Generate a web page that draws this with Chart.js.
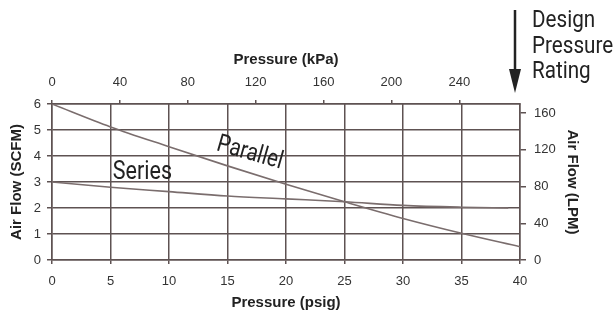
<!DOCTYPE html>
<html>
<head>
<meta charset="utf-8">
<script src="https://cdn.jsdelivr.net/npm/chart.js@4"></script>
<style>
  html, body { margin: 0; background: #fff; }
  #wrap { width: 616px; height: 316px; }
</style>
</head>
<body>
<div id="wrap"><canvas id="myChart" width="616" height="316"></canvas></div>
<script>
// data
var psig = [0, 5, 10, 15, 20, 25, 30, 35, 40];
var parallelScfm = [6.0, 5.12, 4.36, 3.62, 2.91, 2.24, 1.6, 1.03, 0.51];
var seriesPsig = [0, 5, 10, 15, 20, 25, 30, 35, 39];
var seriesScfm = [3.0, 2.8, 2.63, 2.46, 2.35, 2.24, 2.1, 2.03, 2.0];
var kpaTicks = [0, 40, 80, 120, 160, 200, 240];
var lpmTicks = [0, 40, 80, 120, 160];

var KPA_PER_PSI = 6.894757;
var LPM_PER_SCFM = 28.3168;

var gridColor = '#5e5252';
var lineColor = '#7a6d6d';
var tickFont = { family: 'Liberation Sans, Arial, sans-serif', size: 13 };
var titleFont = { family: 'Liberation Sans, Arial, sans-serif', size: 15, weight: 'bold' };

function pts(xs, ys) {
    return xs.map(function (v, i) { return { x: v, y: ys[i] }; });
}

// text labels drawn on top of the chart
var notes = {
    id: 'notes',
    afterDraw: function (chart) {
        var c = chart.ctx, x = chart.scales.x, y = chart.scales.y;
        c.save();
        c.fillStyle = '#222';
        c.textBaseline = 'alphabetic';

        c.font = '25px Roboto';
        c.save();
        c.translate(x.getPixelForValue(5.2), y.getPixelForValue(3.1));
        c.scale(0.86, 1);
        c.fillText('Series', 0, 0);
        c.restore();

        c.save();
        c.translate(x.getPixelForValue(16.9), y.getPixelForValue(4.1));
        c.rotate(16 * Math.PI / 180);
        c.scale(0.82, 1);
        c.textAlign = 'center';
        c.textBaseline = 'middle';
        c.fillText('Parallel', 0, 0);
        c.restore();

        // Design Pressure Rating note
        c.font = '24px Roboto';
        var lines = ['Design', 'Pressure', 'Rating'];
        var base = [27, 52.5, 78];
        for (var i = 0; i < lines.length; i++) {
            c.save();
            c.translate(532, base[i]);
            c.scale(0.86, 1);
            c.fillText(lines[i], 0, 0);
            c.restore();
        }
        c.strokeStyle = '#222';
        c.lineWidth = 2.5;
        c.beginPath();
        c.moveTo(515, 10);
        c.lineTo(515, 72);
        c.stroke();
        c.beginPath();
        c.moveTo(509, 69);
        c.lineTo(521, 69);
        c.lineTo(515, 93);
        c.closePath();
        c.fill();
        c.restore();
    }
};

var ctx = document.getElementById('myChart').getContext('2d');
var chart = new Chart(ctx, {
    type: 'line',
    data: {
        datasets: [{
            label: 'Parallel',
            data: pts(psig, parallelScfm),
            borderColor: lineColor,
            borderWidth: 1.6,
            pointRadius: 0,
            cubicInterpolationMode: 'monotone',
            xAxisID: 'x',
            yAxisID: 'y'
        },
        {
            label: 'Series',
            data: pts(seriesPsig, seriesScfm),
            borderColor: lineColor,
            borderWidth: 1.6,
            pointRadius: 0,
            cubicInterpolationMode: 'monotone',
            xAxisID: 'x',
            yAxisID: 'y'
        }]
    },
    options: {
        responsive: false,
        animation: false,
        layout: { padding: 0 },
        plugins: { legend: { display: false }, tooltip: { enabled: false } },
        scales: {
            x: {
                type: 'linear', position: 'bottom', min: 0, max: 40,
                ticks: { stepSize: 5, font: tickFont, color: '#333', padding: 10, maxRotation: 0 },
                grid: { color: gridColor, lineWidth: 1.5, tickLength: 4 },
                border: { color: gridColor, width: 1.5 },
                title: { display: true, text: 'Pressure (psig)', font: titleFont, color: '#222', padding: { top: 0, bottom: 4 } },
                afterFit: function (s) { s.height = 56; }
            },
            x2: {
                type: 'linear', position: 'top', min: 0, max: 40 * KPA_PER_PSI,
                afterBuildTicks: function (s) { s.ticks = kpaTicks.map(function (v) { return { value: v }; }); },
                ticks: { font: tickFont, color: '#333', padding: 10, maxRotation: 0 },
                grid: { color: gridColor, lineWidth: 1.5, tickLength: 4, drawOnChartArea: false },
                border: { color: gridColor, width: 1.5 },
                title: { display: true, text: 'Pressure (kPa)', font: titleFont, color: '#222', padding: { top: 51, bottom: 0 } },
                afterFit: function (s) { s.height = 104; }
            },
            y: {
                type: 'linear', position: 'left', min: 0, max: 6,
                ticks: { stepSize: 1, font: tickFont, color: '#333', padding: 6 },
                grid: { color: gridColor, lineWidth: 1.5, tickLength: 5 },
                border: { color: gridColor, width: 1.5 },
                title: { display: true, text: 'Air Flow (SCFM)', font: titleFont, color: '#222', padding: { top: 8, bottom: 0 } },
                afterFit: function (s) { s.width = 52; }
            },
            y2: {
                type: 'linear', position: 'right', min: 0, max: 6 * LPM_PER_SCFM,
                afterBuildTicks: function (s) { s.ticks = lpmTicks.map(function (v) { return { value: v }; }); },
                ticks: { font: tickFont, color: '#333', padding: 8 },
                grid: { color: gridColor, lineWidth: 1.5, tickLength: 6, drawOnChartArea: false },
                border: { color: gridColor, width: 1.5 },
                title: { display: true, text: 'Air Flow (LPM)', font: titleFont, color: '#222', padding: { top: 35, bottom: 0 } },
                afterFit: function (s) { s.width = 96; }
            }
        }
    },
    plugins: [notes]
});
</script>
</body>
</html>
